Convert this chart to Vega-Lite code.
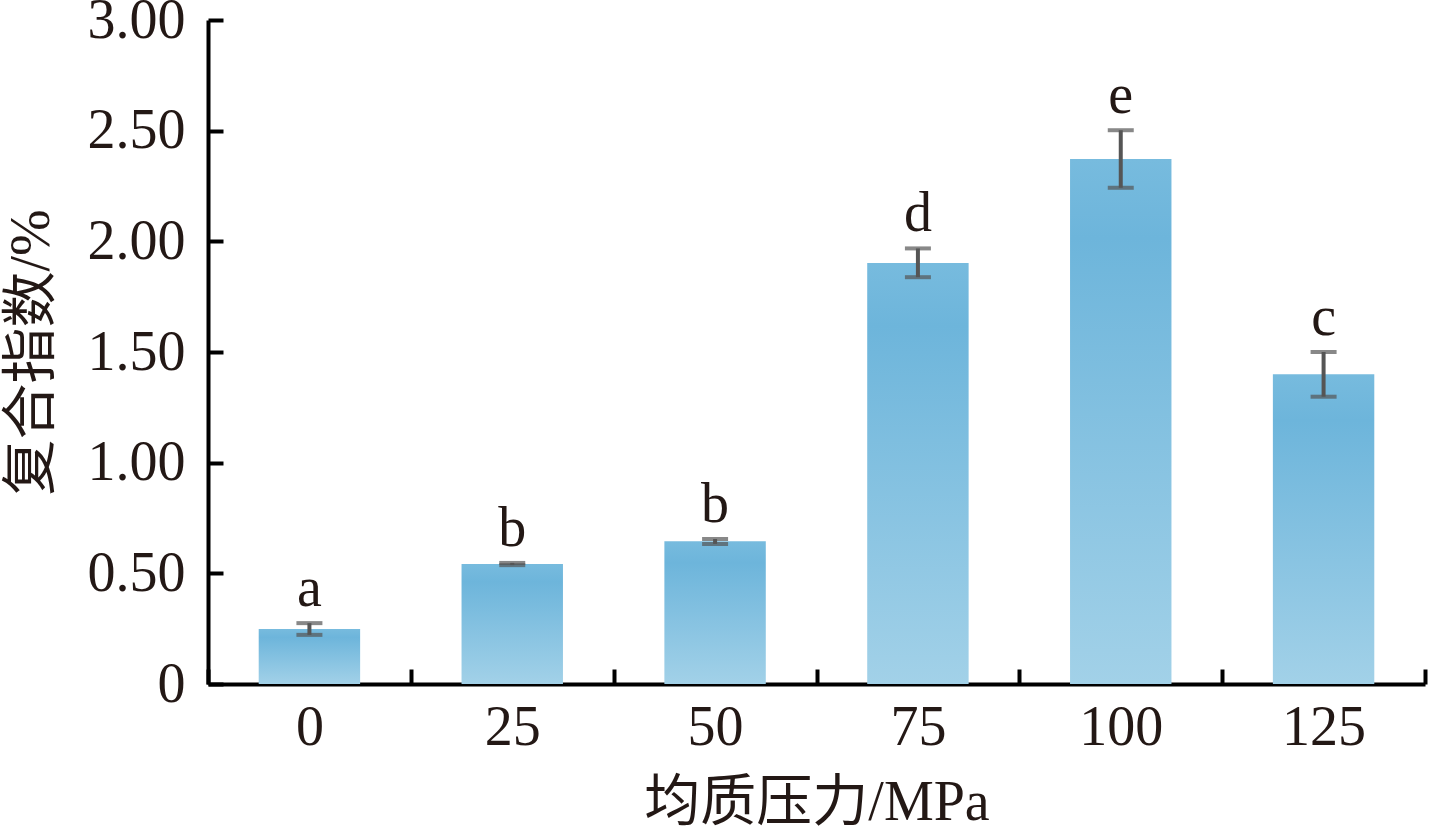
{
  "$schema": "https://vega.github.io/schema/vega-lite/v6.json",
  "autosize": "none",
  "width": 1217,
  "height": 664,
  "padding": {"left": 208, "top": 20, "right": 4, "bottom": 147},
  "background": "white",
  "data": {
    "values": [
      {"pressure": "0", "mean": 0.248, "lo": 0.222, "hi": 0.275, "group": "a"},
      {"pressure": "25", "mean": 0.542, "lo": 0.537, "hi": 0.547, "group": "b"},
      {"pressure": "50", "mean": 0.645, "lo": 0.633, "hi": 0.655, "group": "b"},
      {"pressure": "75", "mean": 1.902, "lo": 1.838, "hi": 1.968, "group": "d"},
      {"pressure": "100", "mean": 2.372, "lo": 2.242, "hi": 2.502, "group": "e"},
      {"pressure": "125", "mean": 1.400, "lo": 1.298, "hi": 1.500, "group": "c"}
    ]
  },
  "encoding": {
    "x": {
      "field": "pressure",
      "type": "nominal",
      "sort": null,
      "scale": {"paddingInner": 0, "paddingOuter": 0},
      "axis": {
        "title": "均质压力/MPa",
        "labelAngle": 0,
        "tickBand": "extent",
        "tickSize": -15,
        "tickWidth": 4,
        "labelPadding": 31,
        "titlePadding": 20
      }
    }
  },
  "layer": [
    {
      "mark": {
        "type": "bar",
        "width": {"band": 0.5},
        "fill": {
          "gradient": "linear",
          "x1": 0, "y1": 0, "x2": 0, "y2": 1,
          "stops": [
            {"offset": 0, "color": "#77bbde"},
            {"offset": 0.15, "color": "#6db5db"},
            {"offset": 1, "color": "#a2d1e8"}
          ]
        }
      },
      "encoding": {
        "y": {
          "field": "mean",
          "type": "quantitative",
          "title": "复合指数/%",
          "scale": {"domain": [0, 3], "nice": false},
          "axis": {
            "values": [0, 0.5, 1, 1.5, 2, 2.5, 3],
            "labelExpr": "datum.value == 0 ? '0' : format(datum.value, '.2f')",
            "tickSize": -15,
            "tickWidth": 4,
            "labelPadding": 38,
            "titlePadding": 27,
            "grid": false
          }
        }
      }
    },
    {
      "mark": {
        "type": "errorbar",
        "color": "#555555",
        "ticks": {"size": 26, "thickness": 4},
        "rule": {"strokeWidth": 4}
      },
      "encoding": {
        "y": {"field": "lo", "type": "quantitative", "title": "复合指数/%"},
        "y2": {"field": "hi"}
      }
    },
    {
      "mark": {
        "type": "text",
        "baseline": "alphabetic",
        "dy": -17,
        "fontSize": 56,
        "font": "Liberation Serif",
        "color": "#231815"
      },
      "encoding": {
        "y": {"field": "hi", "type": "quantitative", "title": "复合指数/%"},
        "text": {"field": "group"}
      }
    }
  ],
  "config": {
    "view": {"stroke": null},
    "axis": {
      "domainColor": "#000000",
      "domainWidth": 4,
      "tickColor": "#000000",
      "labelFont": "Liberation Serif",
      "labelFontSize": 56,
      "labelColor": "#231815",
      "titleFont": "Liberation Serif, Noto Sans CJK SC",
      "titleFontSize": 56,
      "titleFontWeight": "normal",
      "titleColor": "#231815",
      "grid": false
    }
  }
}
